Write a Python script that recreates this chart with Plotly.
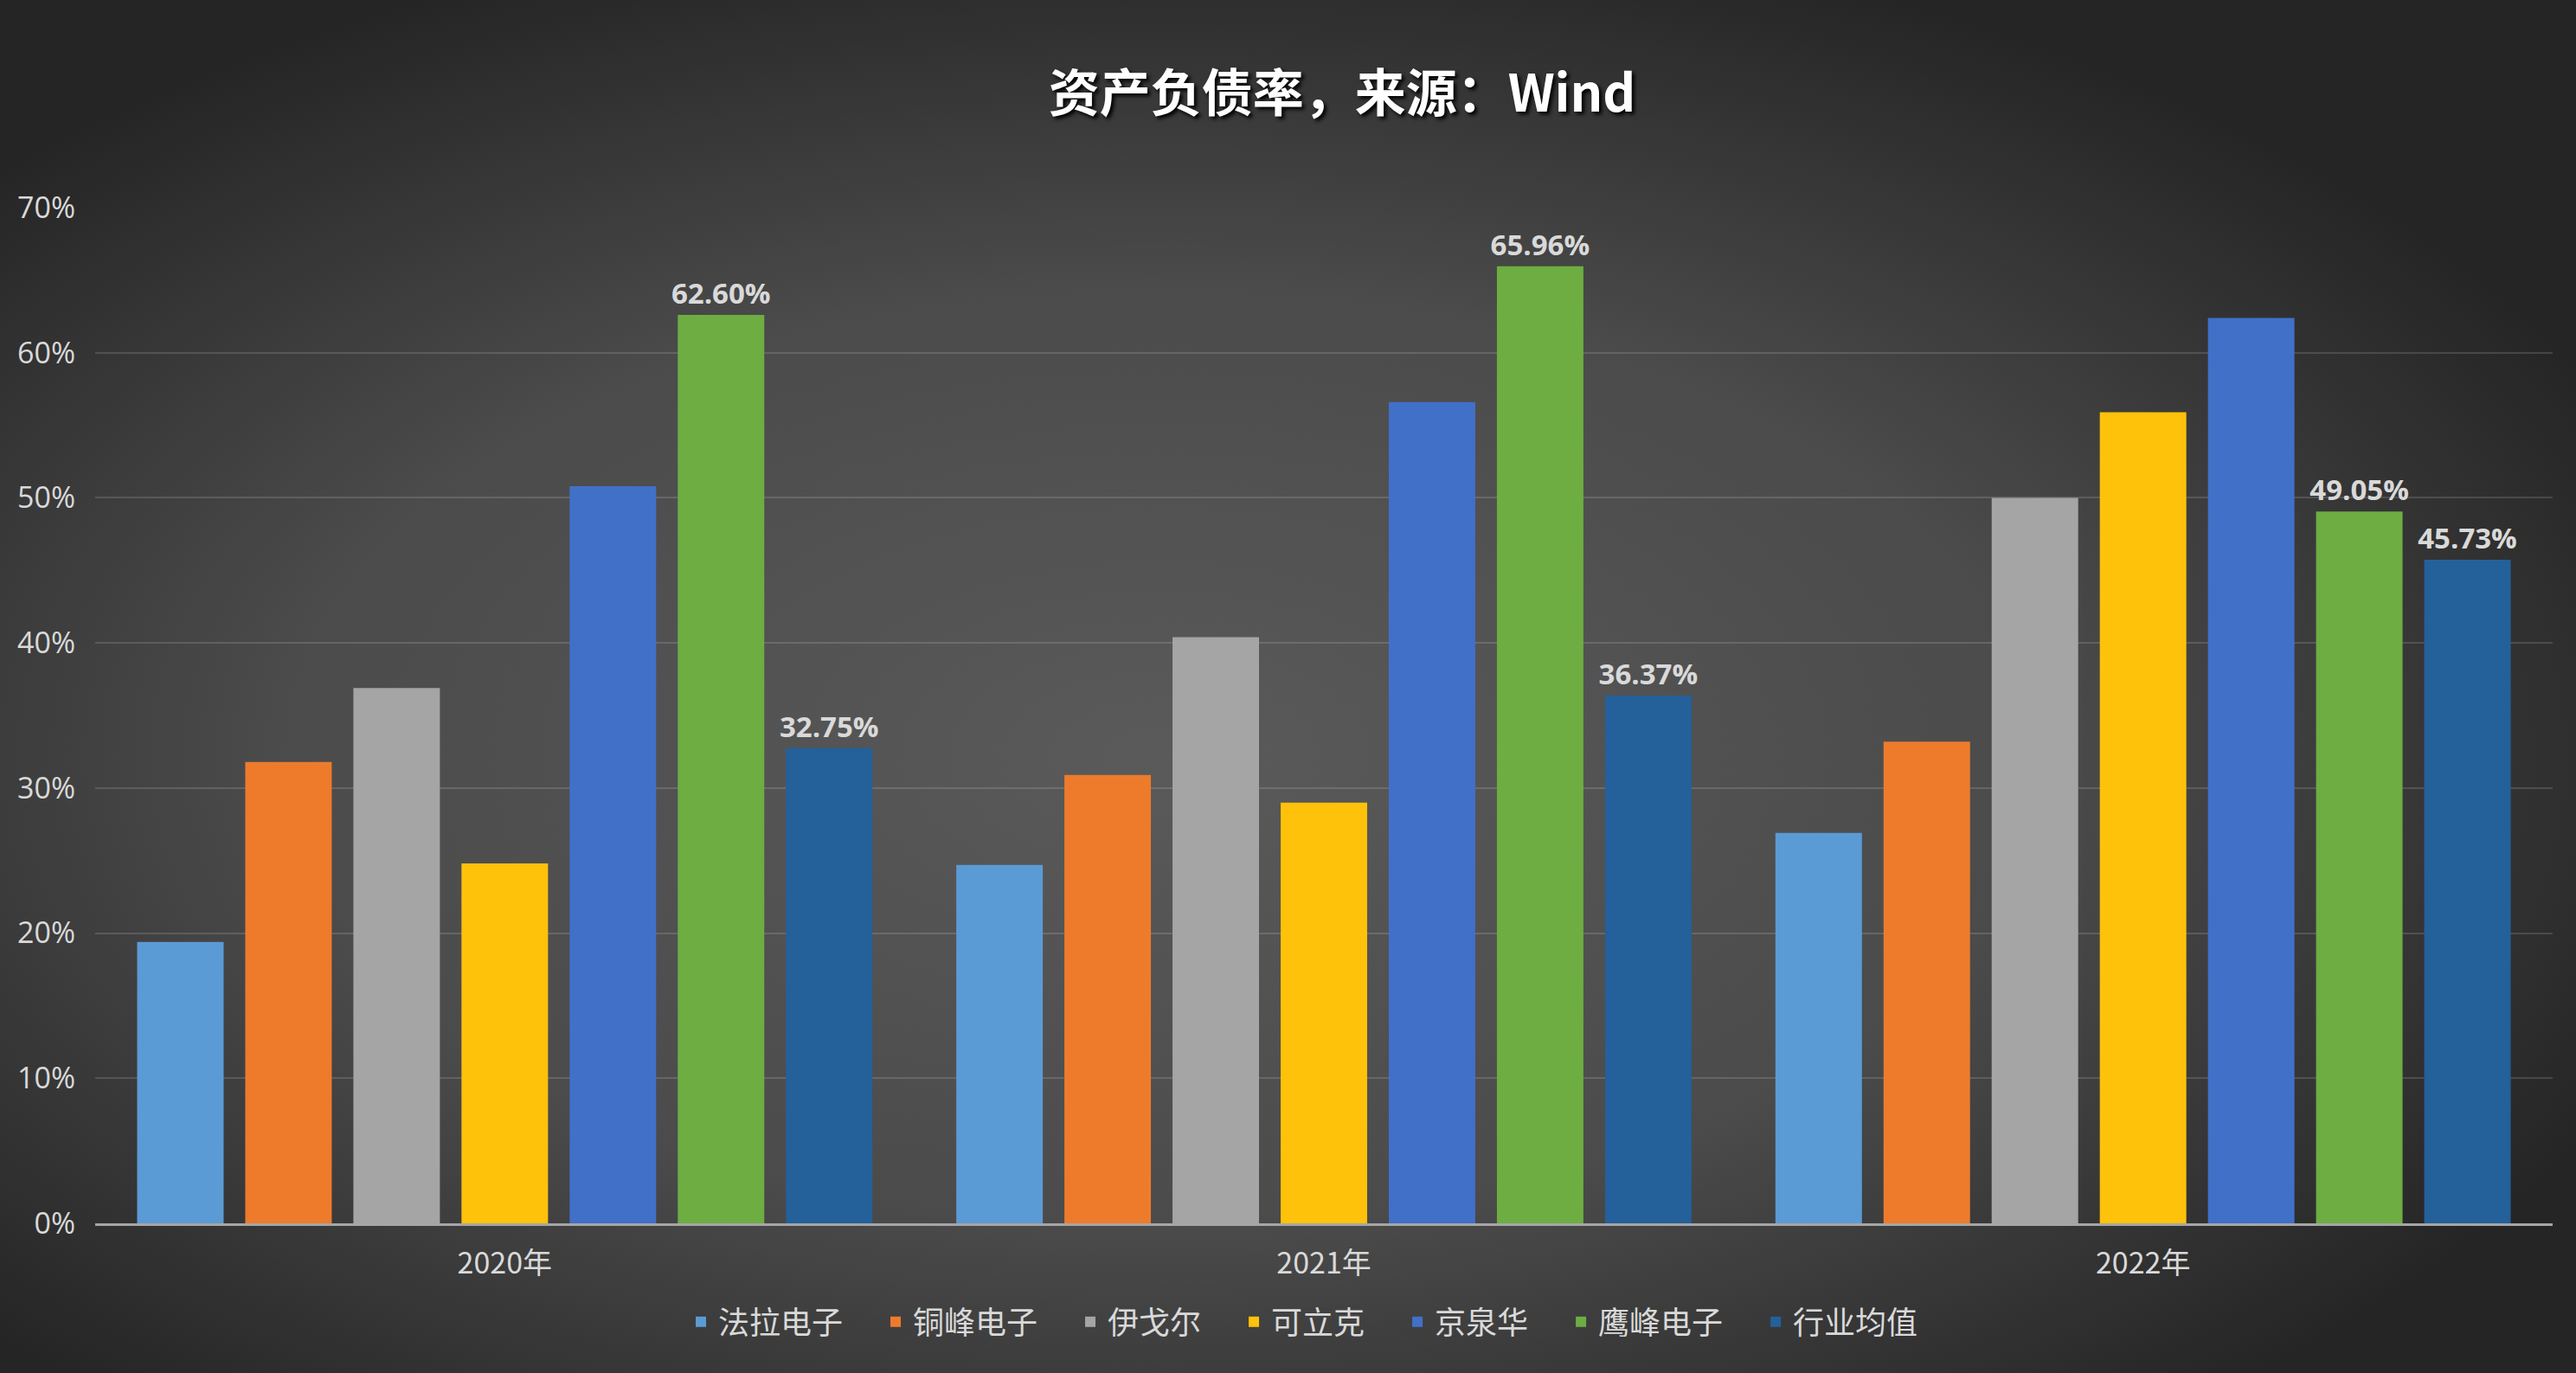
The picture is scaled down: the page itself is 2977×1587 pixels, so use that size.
import base64
import plotly.graph_objects as go

categories = ["2020年", "2021年", "2022年"]
series_names = ["法拉电子", "铜峰电子", "伊戈尔", "可立克", "京泉华", "鹰峰电子", "行业均值"]
fala = [19.4, 24.7, 26.9]
tongfeng = [31.8, 30.9, 33.2]
yigeer = [36.9, 40.4, 50.0]
kelike = [24.8, 29.0, 55.9]
jingquanhua = [50.8, 56.6, 62.4]
yingfeng = [62.60, 65.96, 49.05]
industry_avg = [32.75, 36.37, 45.73]
y_ticks = [0, 10, 20, 30, 40, 50, 60, 70]
y_tick_labels = ["0%", "10%", "20%", "30%", "40%", "50%", "60%", "70%"]

values = [fala, tongfeng, yigeer, kelike, jingquanhua, yingfeng, industry_avg]
colors = ["#5B9BD5", "#EE7B2C", "#A5A5A5", "#FFC20A", "#4170C8", "#6DAD42", "#24609A"]
labeled = [False, False, False, False, False, True, True]

W, H = 2977, 1587
ML, MR, MT, MB = 110, 27, 240, 173
PW, PH = W - ML - MR, H - MT - MB

fig = go.Figure()
for name, vals, col, lab in zip(series_names, values, colors, labeled):
    fig.add_trace(go.Bar(
        name=name + "\u2003", x=categories, y=vals,
        marker=dict(color=col, line=dict(width=0)),
        text=[f"{v:.2f}%" for v in vals] if lab else None,
        texttemplate="%{text}" if lab else None,
        textposition="outside" if lab else "none",
        constraintext="none",
        textfont=dict(family="Open Sans, Noto Sans, sans-serif", size=33, color="#D9D9D9", weight="bold"),
        cliponaxis=False,
    ))

svg = (
    f"<svg xmlns='http://www.w3.org/2000/svg' width='{W}' height='{H}' viewBox='0 0 {W} {H}' preserveAspectRatio='none'>"
    "<defs><radialGradient id='g' cx='45%' cy='55%' r='62%'>"
    "<stop offset='0' stop-color='#5a5a5a'/><stop offset='0.55' stop-color='#4b4b4b'/>"
    "<stop offset='1' stop-color='#252525'/></radialGradient></defs>"
    f"<rect width='{W}' height='{H}' fill='url(#g)'/></svg>"
)
src = "data:image/svg+xml;base64," + base64.b64encode(svg.encode()).decode()

fig.update_layout(
    width=W, height=H,
    margin=dict(l=ML, r=MR, t=MT, b=MB),
    paper_bgcolor="#3a3a3a",
    plot_bgcolor="rgba(0,0,0,0)",
    barmode="group",
    bargap=0.076,
    bargroupgap=0.2,
    images=[dict(source=src, xref="paper", yref="paper",
                 x=-ML / PW, y=1 + MT / PH, sizex=W / PW, sizey=H / PH,
                 xanchor="left", yanchor="top", sizing="stretch", layer="below")],
    title=dict(
        text="资产负债率，来源：Wind",
        x=(1551 - ML) / PW, xref="paper", xanchor="center",
        y=1 - 108 / H, yref="container", yanchor="middle",
        font=dict(family="Noto Sans CJK SC, sans-serif", size=59, color="#FFFFFF", weight="bold",
                  shadow="3px 3px 4px #000000"),
    ),
    font=dict(family="Noto Sans CJK SC, sans-serif", color="#D9D9D9", size=33),
    legend=dict(
        orientation="h", x=(1524 - ML) / PW, xanchor="center", y=-0.097, yanchor="middle",
        font=dict(size=36, color="#D9D9D9"), bgcolor="rgba(0,0,0,0)",
        traceorder="normal",
    ),
    yaxis=dict(
        range=[0, 70], tickvals=y_ticks, ticktext=y_tick_labels,
        showgrid=True, gridcolor="rgba(255,255,255,0.14)", gridwidth=2,
        zeroline=False, showline=False,
        tickfont=dict(family="Open Sans, sans-serif", size=34, color="#D9D9D9"),
        ticklabelstandoff=22,
    ),
    xaxis=dict(
        showline=True, linecolor="#A6A6A6", linewidth=3,
        showgrid=False, ticks="",
        tickfont=dict(size=34, color="#D9D9D9"),
        ticklabelstandoff=14,
    ),
)

fig.write_html(
    "out.html",
    config={"displayModeBar": False},
    post_script="document.body.style.margin='0';document.body.style.padding='0';"
                "document.body.style.background='#252525';",
)
